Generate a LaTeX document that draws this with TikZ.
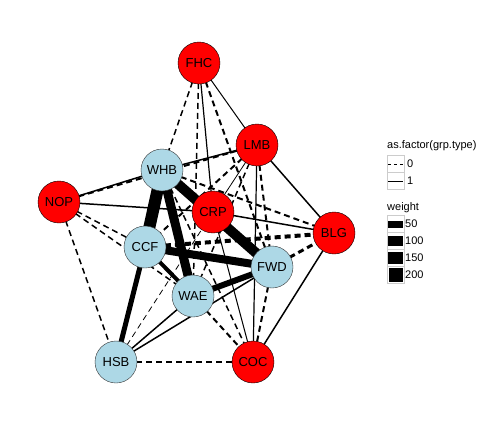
\documentclass[tikz,border=0pt]{standalone}
\usepackage{fontspec}
\setmainfont{Liberation Sans}
\usetikzlibrary{backgrounds}
\definecolor{lightblue}{RGB}{173,216,230}
\begin{document}
\begin{tikzpicture}[x=1pt,y=-1pt,
  redv/.style={circle,draw=black,fill=red,minimum size=42pt,inner sep=0pt,font=\fontsize{13}{15}\selectfont},
  bluev/.style={circle,draw=black!80,fill=lightblue,minimum size=42pt,inner sep=0pt,font=\fontsize{13}{15}\selectfont},
  tie/.style={line width=#1},
  dtie/.style={line width=#1,dash pattern=on 6pt off 4pt},
  keybox/.style={draw=black!20,minimum size=17pt,inner sep=0pt},
  keytext/.style={anchor=west,inner sep=0pt,font=\fontsize{11}{13}\selectfont}]
\useasboundingbox (0,0) rectangle (504,432);
% vertices
\draw node[redv] (fhc) at (199,63) {FHC};
\draw node[redv] (lmb) at (257,145) {LMB};
\draw node[bluev] (whb) at (162,170) {WHB};
\draw node[redv] (nop) at (59,202) {NOP};
\draw node[redv] (crp) at (213,212) {CRP};
\draw node[redv] (blg) at (334,233) {BLG};
\draw node[bluev] (ccf) at (145,247) {CCF};
\draw node[bluev] (fwd) at (272,267) {FWD};
\draw node[bluev] (wae) at (193,296) {WAE};
\draw node[bluev] (hsb) at (116,362) {HSB};
\draw node[redv] (coc) at (253,362) {COC};
\begin{pgfonlayer}{background}
% grp.type 1
\draw[tie=12] (whb.center) -- (ccf.center);
\draw[tie=9] (whb.center) -- (wae.center);
\draw[tie=10] (whb.center) -- (fwd.center);
\draw[tie=8] (ccf.center) -- (fwd.center);
\draw[tie=5] (ccf.center) -- (hsb.center);
\draw[tie=6] (wae.center) -- (fwd.center);
\draw[tie=4] (ccf.center) -- (wae.center);
\draw[tie=1.5] (nop.center) -- (whb.center);
\draw[tie=1.5] (whb.center) -- (lmb.center);
\draw[tie=1.5] (nop.center) -- (crp.center);
\draw[tie=1.5] (crp.center) -- (blg.center);
\draw[tie=1.2] (fhc.center) -- (crp.center);
\draw[tie=1] (fhc.center) -- (lmb.center);
\draw[tie=1.5] (lmb.center) -- (blg.center);
\draw[tie=1.2] (lmb.center) -- (coc.center);
\draw[tie=1.5] (blg.center) -- (coc.center);
\draw[tie=1.5] (hsb.center) -- (wae.center);
\draw[tie=1.5] (hsb.center) -- (fwd.center);
\draw[tie=1] (crp.center) -- (coc.center);
\draw[tie=0.8] (crp.center) -- (lmb.center);
% grp.type 0
\draw[dtie=1.5] (fhc.center) -- (whb.center);
\draw[dtie=1.5] (fhc.center) -- (wae.center);
\draw[dtie=2] (fhc.center) -- (fwd.center);
\draw[dtie=2] (nop.center) -- (lmb.center);
\draw[dtie=1.5] (nop.center) -- (hsb.center);
\draw[dtie=1.5] (nop.center) -- (ccf.center);
\draw[dtie=1.5] (nop.center) -- (wae.center);
\draw[dtie=1.5] (hsb.center) -- (coc.center);
\draw[dtie=0.8] (hsb.center) -- (crp.center);
\draw[dtie=2] (fwd.center) -- (coc.center);
\draw[dtie=3] (fwd.center) -- (blg.center);
\draw[dtie=2] (whb.center) -- (blg.center);
\draw[dtie=4] (ccf.center) -- (blg.center);
\draw[dtie=2] (lmb.center) -- (ccf.center);
\draw[dtie=1.5] (lmb.center) -- (wae.center);
\draw[dtie=2] (lmb.center) -- (fwd.center);
\draw[dtie=2] (wae.center) -- (coc.center);
\draw[dtie=1.5] (whb.center) -- (coc.center);
\end{pgfonlayer}
% legend
\node[keytext] (typetitle) at (387,146) {as.factor(grp.type)};
\node[keybox] (key0) at (395.5,164) {};
\node[keybox] (key1) at (395.5,181) {};
\draw[line width=1pt,dash pattern=on 3pt off 3pt] ([xshift=1pt]key0.west) -- ([xshift=-1pt]key0.east);
\draw[line width=1pt] ([xshift=1pt]key1.west) -- ([xshift=-1pt]key1.east);
\node[keytext] (lab0) at (407,164) {0};
\node[keytext] (lab1) at (407,181) {1};
\node[keytext] (wtitle) at (387,208) {weight};
\node[keybox] (w50) at (395.5,224) {};
\node[keybox] (w100) at (395.5,241) {};
\node[keybox] (w150) at (395.5,258) {};
\node[keybox] (w200) at (395.5,275) {};
\node[fill=black,minimum width=15pt,minimum height=7pt,inner sep=0pt] at (w50) {};
\node[fill=black,minimum width=15pt,minimum height=10pt,inner sep=0pt] at (w100) {};
\node[fill=black,minimum width=15pt,minimum height=12pt,inner sep=0pt] at (w150) {};
\node[fill=black,minimum width=14pt,minimum height=14pt,inner sep=0pt] at (w200) {};
\node[keytext] (lab50) at (405,224) {50};
\node[keytext] (lab100) at (405,241) {100};
\node[keytext] (lab150) at (405,258) {150};
\node[keytext] (lab200) at (405,275) {200};
\end{tikzpicture}
\end{document}
